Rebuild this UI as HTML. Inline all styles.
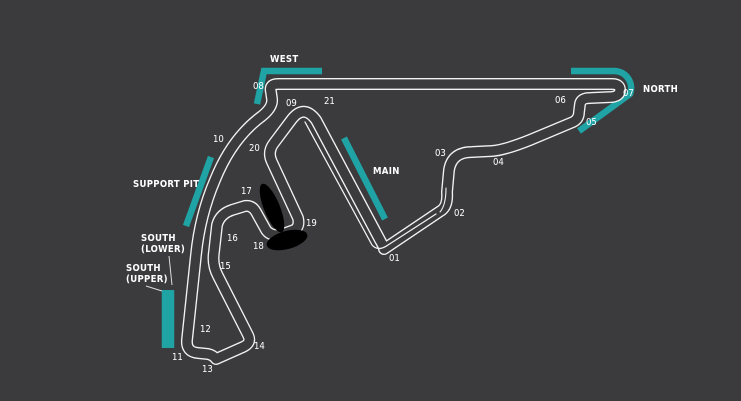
<!DOCTYPE html>
<html><head><meta charset="utf-8"><style>
html,body{margin:0;padding:0;background:#3b3b3d;}
svg{display:block}
text{font-family:"DejaVu Sans Condensed","Liberation Sans",sans-serif;fill:#fff;font-size:9.5px;}
.l{font-weight:bold;font-size:9.5px;letter-spacing:0.3px}
</style></head><body>
<svg width="741" height="401" viewBox="0 0 741 401" xmlns="http://www.w3.org/2000/svg">
<rect width="741" height="401" fill="#3b3b3d"/>
<g stroke="#1fa3a5" stroke-width="6.5" fill="none">
<path d="M257 104 L264 71 L322 71"/>
<line x1="211" y1="157" x2="186" y2="226"/>
<line x1="344" y1="138" x2="385" y2="219"/>
<path d="M571 71 L615 71 A17 17 0 0 1 630 94 L579 131"/>
<line x1="165" y1="290" x2="165" y2="348"/>
<line x1="171" y1="290" x2="171" y2="348"/>
</g>
<g fill="none" stroke-linejoin="round" stroke-linecap="round">
<path d="M384 249 L442 210 Q448 205 447 192 L449 170 Q452 152 472 152 L492 151 Q505 150 530 140 L573 122 Q579 119 579 112 L580 104 Q581 98 590 98 L612 97 Q620 96 620 90 Q620 84 612 84 L278 84 Q269 84 271 92 L272 99 Q273 107 262 116 Q232 138 215 180 Q200 215 196 255 L187 340 Q186 352 198 353 L208 354 Q213 355 216 359 L243 347 Q252 343 248 335 L218 276 Q212 265 214 252 L217 225 Q220 214 232 210 L245 206 Q252 205 256 212 L266 230 Q270 236 280 235 L294 230 Q300 227 298 218 L272 162 Q267 152 274 143 L292 119 Q304 104 316 120 L380 240 Q384 247 384 249 Z" stroke="#f2f2f2" stroke-width="12"/>
<path d="M384 249 L442 210 Q448 205 447 192 L449 170 Q452 152 472 152 L492 151 Q505 150 530 140 L573 122 Q579 119 579 112 L580 104 Q581 98 590 98 L612 97 Q620 96 620 90 Q620 84 612 84 L278 84 Q269 84 271 92 L272 99 Q273 107 262 116 Q232 138 215 180 Q200 215 196 255 L187 340 Q186 352 198 353 L208 354 Q213 355 216 359 L243 347 Q252 343 248 335 L218 276 Q212 265 214 252 L217 225 Q220 214 232 210 L245 206 Q252 205 256 212 L266 230 Q270 236 280 235 L294 230 Q300 227 298 218 L272 162 Q267 152 274 143 L292 119 Q304 104 316 120 L380 240 Q384 247 384 249 Z" stroke="#3b3b3d" stroke-width="9.3"/>
<path d="M305 122 L372 245 Q378 252 388 245 L436 214" stroke="#f2f2f2" stroke-width="1.3"/>
<path d="M440 212 Q446 205 446 188" stroke="#f2f2f2" stroke-width="1.1"/>
</g>
<g fill="#000">
<ellipse cx="272" cy="208" rx="8" ry="26" transform="rotate(-22 272 208)"/>
<ellipse cx="287" cy="240" rx="21" ry="9" transform="rotate(-15 287 240)"/>
</g>
<g stroke="#ddd" stroke-width="1">
<line x1="146" y1="286" x2="162" y2="291"/>
<line x1="169" y1="256" x2="172" y2="285"/>
</g>
<text class="l" x="270" y="62">WEST</text>
<text class="l" x="643" y="92">NORTH</text>
<text class="l" x="373" y="174">MAIN</text>
<text class="l" x="133" y="187">SUPPORT PIT</text>
<text class="l" x="141" y="241">SOUTH</text>
<text class="l" x="141" y="252">(LOWER)</text>
<text class="l" x="126" y="271">SOUTH</text>
<text class="l" x="126" y="282">(UPPER)</text>
<text x="253" y="89">08</text>
<text x="286" y="106">09</text>
<text x="324" y="104">21</text>
<text x="213" y="142">10</text>
<text x="249" y="151">20</text>
<text x="241" y="194">17</text>
<text x="306" y="226">19</text>
<text x="227" y="241">16</text>
<text x="253" y="249">18</text>
<text x="220" y="269">15</text>
<text x="200" y="332">12</text>
<text x="172" y="360">11</text>
<text x="202" y="372">13</text>
<text x="254" y="349">14</text>
<text x="389" y="261">01</text>
<text x="454" y="216">02</text>
<text x="435" y="156">03</text>
<text x="493" y="165">04</text>
<text x="586" y="125">05</text>
<text x="555" y="103">06</text>
<text x="623" y="96">07</text>
</svg>
</body></html>
